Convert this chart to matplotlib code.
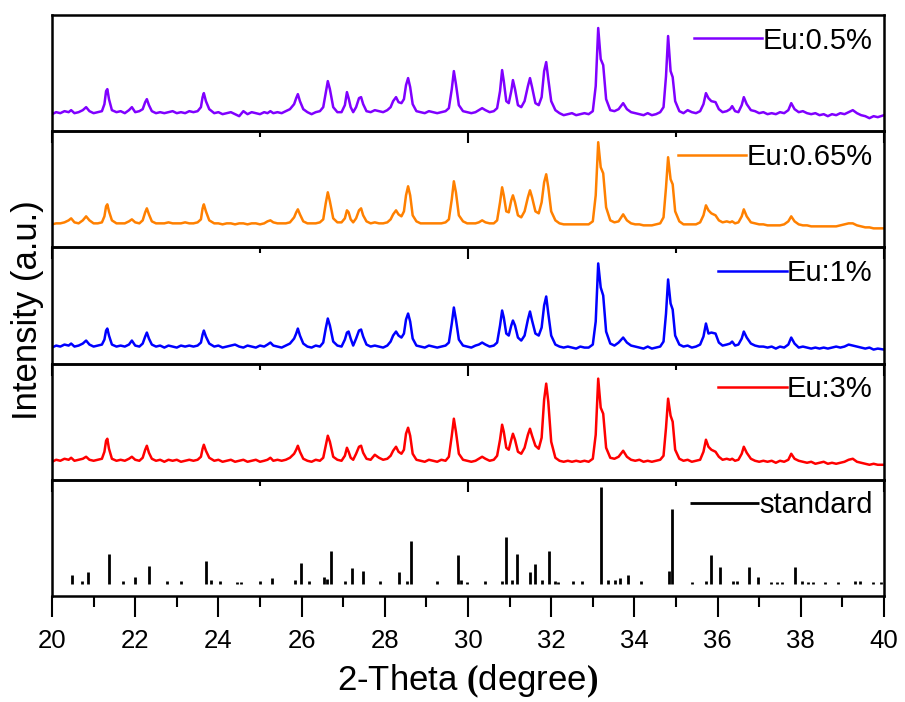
import matplotlib
matplotlib.use("Agg")
import matplotlib.pyplot as plt
from matplotlib.ticker import MultipleLocator

plt.rcParams["font.family"] = "Liberation Sans"
plt.rcParams["mathtext.fontset"] = "custom"
plt.rcParams["mathtext.rm"] = "Liberation Sans"
plt.rcParams["mathtext.bf"] = "Liberation Serif:bold"

theta = [
    20.00, 20.10, 20.20, 20.30, 20.40, 20.46, 20.54, 20.64, 20.74, 20.82,
    20.90, 21.00, 21.10, 21.20, 21.26, 21.30, 21.33, 21.37, 21.44, 21.55,
    21.65, 21.75, 21.85, 21.92, 22.00, 22.10, 22.18, 22.24, 22.28, 22.33,
    22.40, 22.50, 22.60, 22.70, 22.80, 22.90, 23.00, 23.10, 23.20, 23.30,
    23.40, 23.50, 23.58, 23.62, 23.65, 23.70, 23.78, 23.90, 24.00, 24.10,
    24.20, 24.30, 24.40, 24.50, 24.60, 24.70, 24.80, 24.90, 25.00, 25.10,
    25.18, 25.25, 25.32, 25.42, 25.52, 25.62, 25.72, 25.82, 25.87, 25.91,
    25.96, 26.04, 26.14, 26.24, 26.34, 26.44, 26.52, 26.58, 26.63, 26.68,
    26.76, 26.86, 26.96, 27.04, 27.09, 27.13, 27.18, 27.24, 27.31, 27.38,
    27.43, 27.48, 27.56, 27.66, 27.76, 27.86, 27.96, 28.06, 28.14, 28.20,
    28.27, 28.33, 28.40, 28.46, 28.51, 28.56, 28.61, 28.67, 28.76, 28.86,
    28.96, 29.06, 29.16, 29.26, 29.36, 29.46, 29.54, 29.61, 29.66, 29.71,
    29.78, 29.88, 29.98, 30.08, 30.18, 30.26, 30.34, 30.42, 30.52, 30.62,
    30.70, 30.77, 30.82, 30.86, 30.92, 30.98, 31.04, 31.08, 31.13, 31.20,
    31.28, 31.36, 31.44, 31.49, 31.54, 31.62, 31.70, 31.77, 31.83, 31.88,
    31.93, 32.00, 32.10, 32.20, 32.30, 32.40, 32.50, 32.60, 32.70, 32.80,
    32.90, 33.00, 33.07, 33.13, 33.19, 33.25, 33.32, 33.42, 33.52, 33.62,
    33.73, 33.82, 33.92, 34.02, 34.12, 34.22, 34.32, 34.42, 34.52, 34.62,
    34.70, 34.76, 34.81, 34.87, 34.92, 34.98, 35.08, 35.18, 35.28, 35.38,
    35.48, 35.58, 35.66, 35.72, 35.78, 35.85, 35.95, 36.03, 36.12, 36.22,
    36.30, 36.35, 36.42, 36.50, 36.58, 36.63, 36.70, 36.80, 36.90, 37.00,
    37.10, 37.20, 37.30, 37.40, 37.50, 37.60, 37.70, 37.77, 37.85, 37.95,
    38.05, 38.15, 38.25, 38.35, 38.45, 38.55, 38.65, 38.75, 38.85, 38.95,
    39.05, 39.15, 39.25, 39.35, 39.45, 39.55, 39.65, 39.75, 39.85, 40.00,
]

# intensities (a.u.), each panel spans 0..116
eu_05 = [
    17, 19, 18, 20, 19, 21, 18, 19, 21, 24,
    20, 18, 19, 20, 27, 40, 42, 32, 21, 19,
    20, 18, 21, 24, 19, 20, 22, 29, 32, 26,
    20, 18, 19, 18, 19, 20, 18, 19, 18, 20,
    19, 20, 24, 34, 38, 30, 22, 18, 19, 17,
    18, 19, 17, 15, 20, 17, 19, 18, 17, 19,
    18, 20, 18, 19, 18, 20, 22, 27, 33, 37,
    30, 22, 19, 17, 19, 20, 24, 38, 50, 42,
    24, 19, 19, 26, 39, 33, 24, 19, 24, 33,
    34, 27, 20, 19, 21, 20, 19, 21, 24, 30,
    34, 29, 28, 32, 46, 53, 44, 27, 20, 19,
    18, 20, 19, 18, 19, 20, 23, 42, 60, 47,
    26, 20, 19, 18, 19, 21, 23, 21, 19, 20,
    23, 40, 61, 50, 30, 28, 40, 51, 42, 26,
    24, 30, 45, 53, 44, 28, 26, 34, 60, 69,
    52, 30, 21, 18, 16, 17, 18, 16, 17, 18,
    17, 20, 45, 103, 72, 66, 32, 21, 20, 22,
    28, 22, 19, 18, 17, 16, 18, 16, 17, 19,
    24, 55, 95, 60, 54, 30, 20, 18, 21, 19,
    18, 20, 27, 38, 33, 30, 29, 22, 19, 20,
    22, 25, 20, 19, 26, 34, 27, 21, 20, 18,
    19, 17, 18, 17, 19, 18, 21, 28, 22, 19,
    20, 18, 17, 18, 16, 17, 15, 17, 16, 18,
    17, 19, 21, 18, 16, 15, 13, 15, 14, 16,
]
eu_065 = [
    23, 24, 24, 25, 27, 29, 25, 24, 27, 31,
    27, 24, 24, 25, 31, 41, 43, 36, 27, 24,
    24, 24, 26, 28, 25, 24, 27, 35, 39, 33,
    26, 24, 24, 24, 25, 24, 24, 24, 25, 24,
    24, 25, 28, 39, 43, 36, 27, 24, 24, 23,
    24, 24, 23, 24, 24, 23, 24, 24, 23, 24,
    26, 27, 25, 24, 24, 24, 25, 30, 35, 38,
    33, 26, 24, 24, 24, 25, 28, 44, 55, 46,
    29, 25, 25, 29, 37, 35, 28, 25, 29, 37,
    39, 32, 26, 24, 25, 24, 24, 25, 28, 33,
    37, 33, 31, 36, 52, 61, 52, 32, 26, 24,
    24, 24, 24, 24, 24, 25, 28, 48, 66, 55,
    32, 26, 24, 24, 24, 25, 27, 25, 24, 24,
    27, 45, 60, 52, 36, 35, 47, 52, 45, 32,
    30, 36, 50, 57, 50, 36, 34, 45, 65, 73,
    60, 36, 27, 24, 23, 23, 23, 23, 23, 23,
    23, 26, 52, 105, 80, 74, 40, 27, 25, 26,
    33, 27, 24, 23, 23, 22, 22, 22, 23, 24,
    30, 60, 90, 68, 63, 36, 26, 23, 23, 23,
    23, 25, 32, 42, 37, 34, 32, 27, 25, 26,
    25, 26, 24, 25, 31, 38, 31, 25, 24, 23,
    23, 22, 22, 22, 22, 23, 26, 31, 26, 23,
    22, 22, 21, 21, 21, 21, 21, 21, 21, 22,
    23, 24, 24, 22, 21, 20, 20, 19, 19, 19,
]
eu_1 = [
    16, 18, 17, 19, 18, 20, 17, 18, 20, 23,
    19, 17, 18, 19, 24, 33, 35, 28, 19, 17,
    18, 17, 19, 23, 18, 17, 20, 27, 31, 25,
    19, 17, 18, 16, 18, 17, 16, 18, 17, 18,
    17, 18, 21, 29, 33, 27, 20, 17, 18, 16,
    17, 18, 19, 17, 16, 18, 17, 16, 18, 17,
    19, 21, 18, 17, 16, 18, 20, 25, 30, 35,
    28, 20, 17, 16, 18, 17, 21, 35, 45, 38,
    22, 18, 17, 24, 31, 32, 25, 18, 25, 33,
    34, 27, 19, 17, 18, 17, 16, 18, 22, 28,
    32, 28, 26, 30, 44, 50, 42, 25, 18, 17,
    16, 18, 17, 16, 17, 18, 21, 40, 56, 44,
    24, 18, 17, 16, 18, 19, 21, 19, 17, 18,
    21, 38, 53, 46, 30, 28, 38, 43, 38, 26,
    23, 28, 44, 52, 43, 30, 28, 36, 58, 67,
    50, 28, 19, 17, 16, 17, 16, 15, 17, 16,
    16, 19, 42, 100, 76, 68, 32, 20, 18, 21,
    26, 21, 18, 17, 16, 15, 17, 15, 16, 17,
    22, 50, 84, 60, 54, 28, 19, 17, 18, 16,
    17, 19, 27, 40, 30, 31, 30, 21, 18, 19,
    20, 22, 18, 19, 25, 32, 26, 20, 18, 17,
    17, 16, 17, 15, 17, 16, 19, 26, 20, 16,
    17, 16, 15, 16, 15, 16, 15, 16, 17, 16,
    17, 19, 18, 17, 16, 15, 16, 14, 15, 14,
]
eu_3 = [
    18, 20, 19, 21, 20, 22, 19, 20, 21, 23,
    20, 19, 20, 21, 28, 39, 41, 31, 21, 19,
    20, 19, 21, 23, 20, 19, 22, 30, 34, 27,
    21, 19, 20, 18, 20, 19, 20, 18, 19, 20,
    19, 20, 23, 31, 35, 29, 22, 19, 20, 18,
    19, 20, 18, 19, 20, 18, 19, 20, 18, 19,
    20, 22, 19, 20, 19, 20, 22, 26, 30, 34,
    28, 21, 19, 18, 20, 19, 22, 34, 44, 38,
    23, 20, 19, 24, 32, 28, 22, 20, 26, 33,
    34, 27, 21, 20, 25, 22, 20, 21, 24, 29,
    33, 28, 26, 30, 46, 52, 44, 26, 20, 19,
    18, 20, 19, 18, 20, 19, 23, 44, 61, 48,
    26, 20, 19, 18, 19, 21, 23, 21, 19, 20,
    24, 40, 55, 48, 32, 30, 40, 46, 40, 28,
    26, 32, 45, 51, 44, 34, 31, 42, 80, 96,
    78, 38, 22, 19, 18, 19, 18, 19, 18, 19,
    18, 21, 45, 101, 72, 66, 32, 22, 21, 23,
    29, 23, 20, 19, 20, 18, 19, 18, 19, 20,
    24, 52, 81, 64, 58, 30, 21, 19, 20, 18,
    19, 20, 28, 40, 33, 30, 28, 23, 20, 21,
    20, 21, 19, 20, 26, 33, 27, 21, 19, 18,
    19, 18, 19, 17, 19, 18, 20, 26, 21, 19,
    18, 17, 18, 16, 17, 18, 16, 17, 16, 17,
    18, 20, 21, 18, 17, 16, 15, 16, 15, 15,
]

series = [eu_05, eu_065, eu_1, eu_3]
labels = ["Eu:0.5%", "Eu:0.65%", "Eu:1%", "Eu:3%"]
colors = ["#8000ff", "#ff8000", "#0000ff", "#ff0000"]

# standard card (stick pattern)
std_theta = [
    20.48, 20.71, 20.87, 21.38, 21.70, 21.99, 22.32, 22.77, 23.11, 23.70,
    23.83, 24.05, 24.45, 24.55, 25.01, 25.30, 25.83, 25.99, 26.17, 26.55,
    26.62, 26.71, 27.05, 27.20, 27.48, 27.88, 28.35, 28.53, 28.64, 29.25,
    29.75, 29.83, 29.98, 30.42, 30.81, 30.91, 31.05, 31.17, 31.49, 31.61,
    31.77, 31.95, 32.08, 32.17, 32.53, 32.73, 33.19, 33.37, 33.53, 33.65,
    33.85, 34.15, 34.83, 34.90, 35.38, 35.71, 35.84, 36.06, 36.38, 36.46,
    36.76, 36.96, 37.28, 37.42, 37.54, 37.86, 38.02, 38.18, 38.30, 38.58,
    38.90, 39.30, 39.42, 39.74, 39.92,
]
std_height = [
    21, 15, 24, 42, 15, 19, 30, 15, 15, 35,
    16, 15, 14, 14, 15, 18, 16, 33, 15, 19,
    17, 45, 15, 28, 25, 15, 24, 15, 55, 15,
    41, 16, 14, 15, 15, 59, 16, 42, 24, 32,
    16, 45, 15, 14, 15, 15, 109, 16, 16, 18,
    21, 15, 25, 87, 14, 15, 41, 29, 15, 15,
    29, 19, 14, 14, 14, 29, 15, 14, 14, 14,
    14, 15, 15, 14, 14,
]
std_base = 12

for s in series:
    assert len(s) == len(theta)
assert len(std_theta) == len(std_height)

W, H = 905, 702
fig = plt.figure(figsize=(W / 100, H / 100), dpi=100)
left, width = 52 / W, 832 / W
ph = (596 - 15) / 5 / H
bottom0 = 1 - 596 / H

axes = []
for i in range(5):
    ax = fig.add_axes([left, bottom0 + (4 - i) * ph, width, ph])
    ax.patch.set_alpha(0)
    ax.set_xlim(20, 40)
    ax.set_ylim(0, 116)
    ax.set_yticks([])
    for sp in ax.spines.values():
        sp.set_linewidth(1.8)
    axes.append(ax)

for ax, y, lab, c in zip(axes[:4], series, labels, colors):
    ax.plot(theta, y, color=c, lw=1.8, label=lab)
    ax.xaxis.set_major_locator(MultipleLocator(10))
    ax.xaxis.set_minor_locator(MultipleLocator(5))
    ax.tick_params(axis="x", which="major", direction="out", length=8.5,
                   width=1.5, labelbottom=False)
    ax.tick_params(axis="x", which="minor", direction="out", length=4.5,
                   width=1.5)

ax = axes[4]
ax.vlines(std_theta, std_base, std_height, color="black", lw=2, label="standard")
ax.xaxis.set_major_locator(MultipleLocator(2))
ax.xaxis.set_minor_locator(MultipleLocator(1))
ax.tick_params(axis="x", which="major", direction="out", length=15, width=1.5,
               labelsize=18.5, pad=9)
ax.tick_params(axis="x", which="minor", direction="out", length=8, width=1.5)

for ax in axes:
    ax.legend(loc="upper right", frameon=False, fontsize=21, handlelength=2.35,
              handletextpad=0, borderaxespad=0.2, borderpad=0.2)

fig.text(468 / W, 1 - 681 / H, r"2-Theta $\mathbf{(}$degree$\mathbf{)}$",
         fontsize=25, ha="center", va="center")
fig.text(28 / W, 1 - 310 / H, "Intensity (a.u.)", fontsize=25, rotation=90,
         ha="center", va="center")

fig.savefig("out.png", dpi=100)
